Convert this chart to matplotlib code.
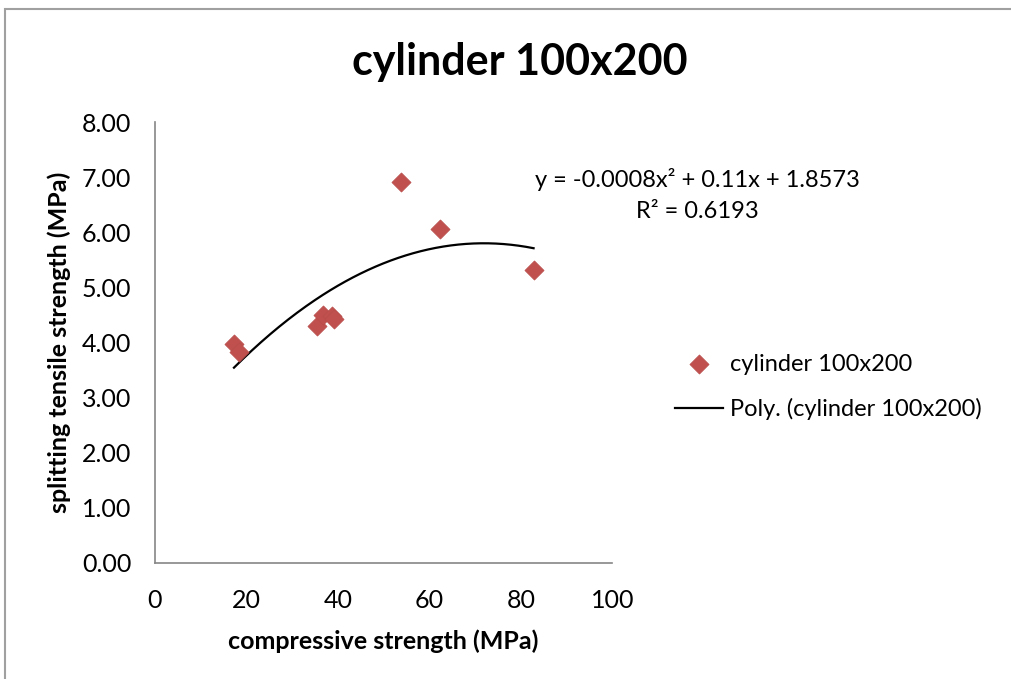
import matplotlib
matplotlib.use("Agg")
import matplotlib.pyplot as plt
import numpy as np

plt.rcParams["font.family"] = ["Lato", "DejaVu Sans"]

# compressive vs splitting tensile strength, 100x200 cylinders
compressive = [17.3, 18.4, 35.5, 36.7, 38.7, 39.2, 53.8, 62.4, 82.8]
tensile = [3.97, 3.83, 4.30, 4.50, 4.48, 4.42, 6.92, 6.06, 5.32]

series_name = "cylinder 100x200"
equation = "y = -0.0008x² + 0.11x + 1.8573"
r_squared = "R² = 0.6193"

x = np.array(compressive)
y = np.array(tensile)
coef = np.polyfit(x, y, 2)
xs = np.linspace(x.min(), x.max(), 200)
ys = np.polyval(coef, xs)

fig = plt.figure(figsize=(10.12, 6.79), dpi=100)
ax = fig.add_axes([0.153, 0.171, 0.452, 0.649])

ax.scatter(x, y, marker="D", s=95, color="#c0504d", edgecolors="#b84c49",
           linewidths=0.5, zorder=3, label=series_name)
ax.plot(xs, ys, color="black", lw=1.6, zorder=2,
        label=f"Poly. ({series_name})")

ax.set_xlim(0, 100)
ax.set_ylim(0, 8)
ax.set_xticks(np.arange(0, 101, 20))
ax.set_yticks(np.arange(0, 8.01, 1))
ax.yaxis.set_major_formatter(matplotlib.ticker.FormatStrFormatter("%.2f"))
ax.tick_params(length=0, labelsize=18)
ax.tick_params(axis="x", pad=19)
ax.tick_params(axis="y", pad=17)

for side in ("top", "right"):
    ax.spines[side].set_visible(False)
for side in ("left", "bottom"):
    ax.spines[side].set_color("#868686")
    ax.spines[side].set_linewidth(1.2)

ax.set_xlabel("compressive strength (MPa)", fontsize=18, fontweight="bold",
              labelpad=12)
ax.set_ylabel("splitting tensile strength (MPa)", fontsize=18,
              fontweight="bold", labelpad=8)

fig.text(0.5138, 0.908, series_name, ha="center", va="center",
         fontsize=31, fontweight="bold")

fig.text(0.689, 0.735, equation, ha="center", va="center", fontsize=17)
fig.text(0.689, 0.688, r_squared, ha="center", va="center", fontsize=17)

fig.legend(loc="center left", bbox_to_anchor=(0.646, 0.43), frameon=False,
           fontsize=17, handlelength=2.05, handletextpad=0.3,
           labelspacing=1.0, scatterpoints=1)

# outer chart border
fig.add_artist(plt.Rectangle((0.005, -0.01), 1.2, 0.997, transform=fig.transFigure,
                             fill=False, edgecolor="#a0a0a0", lw=1.5))

fig.savefig("out.png", dpi=100)
